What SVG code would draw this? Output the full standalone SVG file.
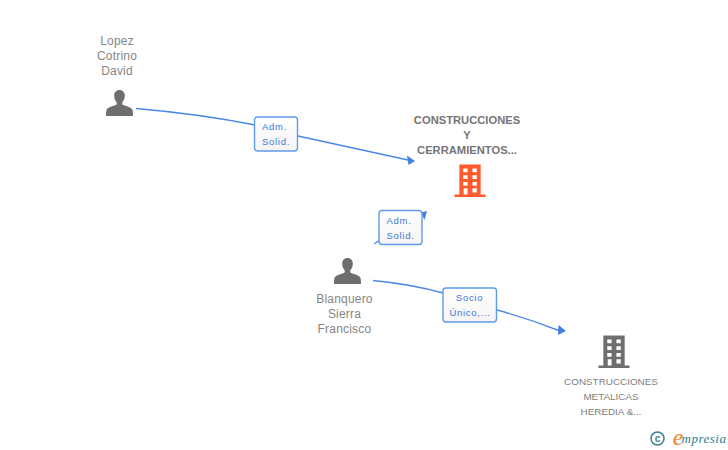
<svg xmlns="http://www.w3.org/2000/svg" width="728" height="450" viewBox="0 0 728 450">
<style>
text{font-family:"Liberation Sans",Arial,sans-serif;text-anchor:middle}
.n{font-size:12px;fill:#858585;letter-spacing:.2px}
.b{font-size:11.2px;fill:#757575;font-weight:bold}
.s{font-size:9.9px;fill:#808080}
.l{font-size:9.5px;fill:#3a78d8;letter-spacing:.7px}
.c{fill:none;stroke:#4a88e8;stroke-width:1.4}
.a{fill:#3f80e0}
.p{fill:#6e6e6e}
.box{fill:#fff;stroke:#5f9bec;stroke-width:1.4}
</style>
<defs>
<symbol id="person" viewBox="0 0 28 28" overflow="visible">
<path d="M14 0c-3.600 0-5.500 2.700-5.500 6 0 2.800 1 5.200 2.600 6.800v2.200c-2 1.500-9.500 2.500-10.500 5.500-.4 1.500-.6 4-.6 6.500h28c0-2.500-.2-5-.6-6.500-1-3-8.500-4-10.500-5.500v-2.200c1.600-1.600 2.600-4 2.600-6.800 0-3.300-1.900-6-5.500-6z"/>
</symbol>
<symbol id="bld" viewBox="0 0 32 34" overflow="visible">
<path fill-rule="evenodd" d="M5 0h22v31h5v2.500H0V31h5zM9 4v4h4.500V4zM18.500 4v4H23V4zM9 11v4h4.500v-4zM18.500 11v4H23v-4zM9 18v3.800h4.500V18zM18.500 18v3.800H23V18zM9.500 24.500V31H13.500v-6.500zM18.500 24.500v4.300H23v-4.300z"/>
</symbol>
<linearGradient id="g" x1="0" y1="0" x2="0" y2="1"><stop offset="0" stop-color="#fff"/><stop offset="1" stop-color="#f4f4f4"/></linearGradient>
</defs>
<g id="connectors">
<path class="c" d="M136 108.500Q200 114 255 125"/>
<path class="c" d="M298 136L408 160"/>
<path class="a" d="M415 161L407 155.500 408.500 165z"/>
<path class="c" d="M374 244L380 240"/>
<path class="a" d="M427 211L421 212.500 424.500 220z"/>
<path class="c" d="M373 280.500Q410 284 443 293"/>
<path class="c" d="M497 310Q530 319 560 331"/>
<path class="a" d="M566 331L558.500 325 558 335z"/>
</g>
<g id="node-lopez">
<text class="n" x="117" y="45">Lopez</text><text class="n" x="117" y="60">Cotrino</text><text class="n" x="117" y="75">David</text>
<use href="#person" class="p" x="106" y="90" width="27" height="27"/>
</g>
<g id="node-construcciones-y">
<text class="b" x="467" y="124">CONSTRUCCIONES</text><text class="b" x="467" y="139">Y</text><text class="b" x="467" y="154">CERRAMIENTOS...</text>
<use href="#bld" fill="#ff5a2c" x="454.500" y="164" width="31" height="34"/>
</g>
<g id="node-blanquero">
<use href="#person" class="p" x="334" y="258" width="27" height="27"/>
<text class="n" x="344.500" y="303">Blanquero</text><text class="n" x="344.500" y="318">Sierra</text><text class="n" x="344.500" y="333">Francisco</text>
</g>
<g id="node-metalicas">
<use href="#bld" fill="#6e6e6e" x="598.500" y="335" width="31" height="34"/>
<text class="s" x="611" y="385">CONSTRUCCIONES</text><text class="s" x="611" y="400">METALICAS</text><text class="s" x="611" y="415">HEREDIA &amp;...</text>
</g>
<g id="label-1">
<rect class="box" x="254.500" y="117" width="43" height="34" rx="3" style="fill:url(#g)"/>
<text class="l" x="274.500" y="130">Adm.</text><text class="l" x="276" y="145">Solid.</text>
</g>
<g id="label-2">
<rect class="box" x="379" y="210.500" width="43" height="34" rx="3" style="fill:url(#g)"/>
<text class="l" x="399" y="224">Adm.</text><text class="l" x="400.500" y="239">Solid.</text>
</g>
<g id="label-3">
<rect class="box" x="443" y="288" width="53.500" height="34" rx="3" style="fill:url(#g)"/>
<text class="l" x="469.500" y="301">Socio</text><text class="l" x="470" y="316">Único,...</text>
</g>
<g id="watermark">
<circle cx="657.500" cy="438.500" r="6.500" fill="none" stroke="#3d8090" stroke-width="1.500"/>
<text x="657.500" y="442" style="font-size:10px;fill:#3d8090;font-weight:bold">c</text>
<text x="678" y="445" style="font-family:'Liberation Serif',serif;font-size:24px;font-style:italic;fill:#f08020">e</text>
<text x="704" y="443" style="font-family:'Liberation Serif',serif;font-size:13px;font-style:italic;fill:#2d7f90;letter-spacing:.5px">mpresia</text>
</g>
</svg>
